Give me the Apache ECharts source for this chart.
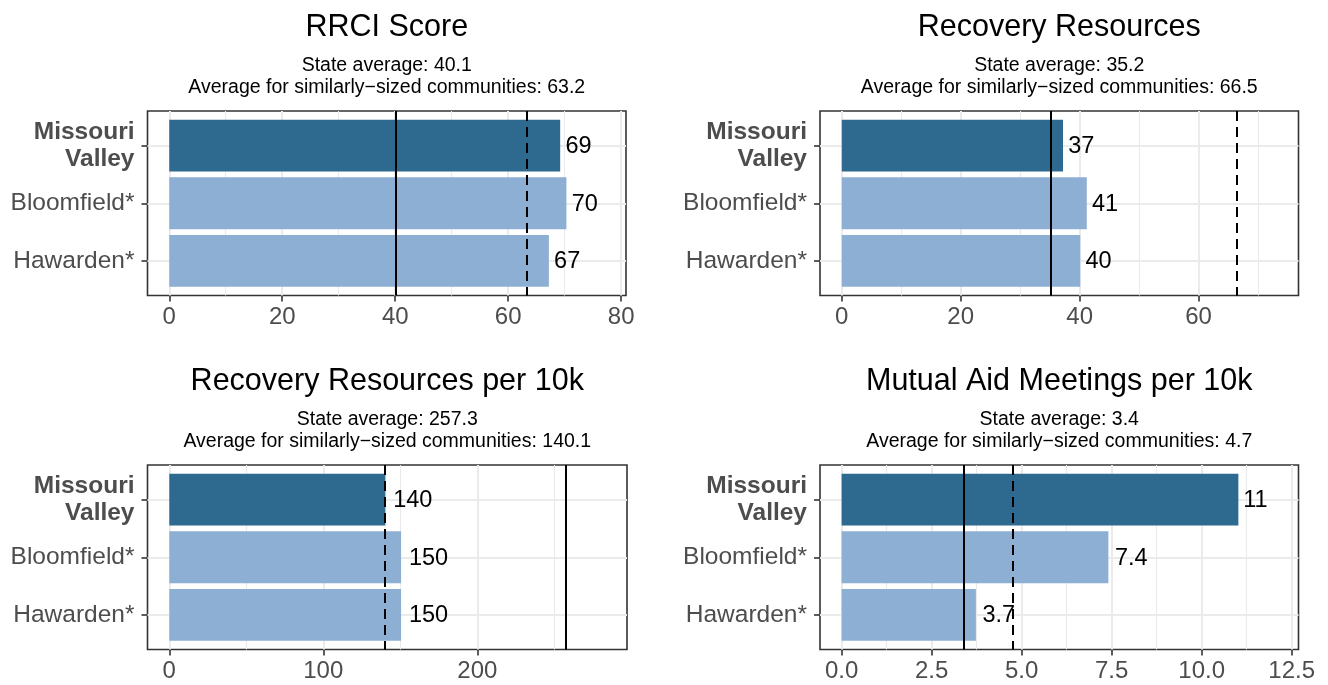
<!DOCTYPE html>
<html>
<head>
<meta charset="utf-8">
<script src="https://cdn.jsdelivr.net/npm/echarts@6/dist/echarts.min.js"></script>
<style>
  html, body { margin: 0; padding: 0; background: #fff; }
  #chart { width: 1328px; height: 685px; }
</style>
</head>
<body>
<div id="chart"></div>
<script>
// communities, top to bottom
const categories = ['Missouri Valley', 'Bloomfield*', 'Hawarden*'];

const titles = ['RRCI Score', 'Recovery Resources', 'Recovery Resources per 10k', 'Mutual Aid Meetings per 10k'];

// bar values per panel
const rrciScore = [69.2, 70.3, 67.2];
const recoveryResources = [37.2, 41.2, 40.1];
const resourcesPer10k = [140.3, 150.5, 150.5];
const meetingsPer10k = [11.02, 7.41, 3.73];

// reference lines
const stateAverages = [40.1, 35.2, 257.3, 3.4];
const similarAverages = [63.2, 66.5, 140.1, 4.74];

// axis ticks
const rrciTicks = [0, 20, 40, 60, 80];
const resourceTicks = [0, 20, 40, 60];
const per10kTicks = [0, 100, 200];
const meetingTicks = [0, 2.5, 5, 7.5, 10, 12.5];

const rrciMinor = [10, 30, 50, 70];
const resourceMinor = [10, 30, 50, 70];
const per10kMinor = [50, 150, 250];
const meetingMinor = [1.25, 3.75, 6.25, 8.75, 11.25];

const values = [rrciScore, recoveryResources, resourcesPer10k, meetingsPer10k];
const ticks = [rrciTicks, resourceTicks, per10kTicks, meetingTicks];
const minors = [rrciMinor, resourceMinor, per10kMinor, meetingMinor];

const FONT = '"Liberation Sans", Arial, Helvetica, sans-serif';
const VALUE_FONT = '23.5px ' + FONT;
const DARK = '#2E6A8F';
const LIGHT = '#8DAFD3';
const GRID = '#EBEBEB';
const INK = '#333333';

// panel boxes and x ranges
const panels = [
  { left: 147.5, top: 111, width: 478.5, height: 184.5, min: -3.85, max: 80.85 },
  { left: 820, top: 111, width: 478.5, height: 184.5, min: -3.66, max: 76.8 },
  { left: 147.5, top: 465, width: 479.5, height: 184.5, min: -14.15, max: 297.2 },
  { left: 820, top: 465, width: 478.5, height: 184.5, min: -0.6, max: 12.69 }
];

const measureCtx = document.createElement('canvas').getContext('2d');
function textWidth(s, font) {
  measureCtx.font = font;
  return measureCtx.measureText(s).width;
}

function labelOf(v) {
  return String(Number(v.toPrecision(2)));
}

function renderBar(params, api) {
  const v = api.value(0);
  const pos = api.value(1);
  const a = api.coord([0, pos]);
  const b = api.coord([v, pos]);
  const h = api.size([0, 0.9])[1];
  const txt = labelOf(v);
  return {
    type: 'group',
    children: [
      {
        type: 'rect',
        shape: { x: a[0], y: a[1] - h / 2, width: b[0] - a[0], height: h },
        style: { fill: pos === 1 ? DARK : LIGHT }
      },
      {
        type: 'text',
        x: b[0] + 0.2 * textWidth(txt, VALUE_FONT),
        y: b[1] + 1,
        style: {
          text: txt,
          fill: '#000',
          font: VALUE_FONT,
          align: 'left',
          verticalAlign: 'middle'
        }
      }
    ]
  };
}

const grids = [], xAxes = [], yAxes = [], series = [], graphics = [];

panels.forEach(function (p, i) {
  grids.push({
    left: p.left, top: p.top, width: p.width, height: p.height,
    show: true, borderColor: INK, borderWidth: 1.6, backgroundColor: 'transparent'
  });

  xAxes.push({
    type: 'value', gridIndex: i, min: p.min, max: p.max,
    axisLine: { show: false, onZero: false },
    axisTick: { show: true, customValues: ticks[i], length: 6, lineStyle: { color: INK, width: 1.6 } },
    axisLabel: {
      customValues: ticks[i], margin: 10, color: '#4D4D4D', fontSize: 24, fontFamily: FONT,
      formatter: function (v) { return i === 3 ? v.toFixed(1) : String(v); }
    },
    splitLine: { show: false }
  });

  yAxes.push({
    type: 'value', gridIndex: i, min: 0.4, max: 3.6, inverse: true,
    axisLine: { show: false, onZero: false },
    axisTick: { show: true, customValues: [1, 2, 3], length: 6, lineStyle: { color: INK, width: 1.6 } },
    axisLabel: {
      customValues: [1, 2, 3], margin: 13, color: '#4D4D4D', fontSize: 24.5, fontFamily: FONT,
      lineHeight: 27,
      formatter: function (v) {
        const k = Math.round(v) - 1;
        if (k === 0) return categories[0].split(' ').map(function (w) { return '{b|' + w + '}'; }).join('\n');
        return categories[k];
      },
      rich: { b: { fontWeight: 'bold', fontSize: 24.5, lineHeight: 27, color: '#4D4D4D', fontFamily: FONT } }
    },
    splitLine: { show: false }
  });

  // background grid lines
  const gl = [];
  ticks[i].forEach(function (t) { gl.push({ xAxis: t, lineStyle: { color: GRID, width: 2, type: 'solid' } }); });
  minors[i].forEach(function (t) { gl.push({ xAxis: t, lineStyle: { color: GRID, width: 1.1, type: 'solid' } }); });
  [1, 2, 3].forEach(function (t) { gl.push({ yAxis: t, lineStyle: { color: GRID, width: 2, type: 'solid' } }); });

  series.push({
    type: 'line', xAxisIndex: i, yAxisIndex: i, data: [], silent: true, z: 1,
    markLine: { silent: true, symbol: 'none', z: 1, label: { show: false }, data: gl }
  });

  series.push({
    type: 'custom', xAxisIndex: i, yAxisIndex: i, z: 2, silent: true,
    data: values[i].map(function (v, k) { return [v, k + 1]; }),
    renderItem: renderBar,
    markLine: {
      silent: true, symbol: 'none', z: 5, label: { show: false },
      data: [
        { xAxis: stateAverages[i], lineStyle: { color: '#000', width: 2, type: 'solid' } },
        { xAxis: similarAverages[i], lineStyle: { color: '#000', width: 2, type: [10, 6] } }
      ]
    }
  });

  const cx = p.left + p.width / 2;
  const ty = p.top - 83.5;
  graphics.push({
    type: 'text', x: cx, y: ty,
    style: { text: titles[i], font: '30.5px ' + FONT, fill: '#000', align: 'center', verticalAlign: 'middle' }
  });
  graphics.push({
    type: 'text', x: cx, y: ty + 38.5,
    style: { text: 'State average: ' + stateAverages[i].toFixed(1), font: '19.5px ' + FONT, fill: '#000', align: 'center', verticalAlign: 'middle' }
  });
  graphics.push({
    type: 'text', x: cx, y: ty + 60,
    style: { text: 'Average for similarly\u2212sized communities: ' + similarAverages[i].toFixed(1), font: '19.5px ' + FONT, fill: '#000', align: 'center', verticalAlign: 'middle' }
  });
});

const chart = echarts.init(document.getElementById('chart'));
chart.setOption({
  animation: false,
  backgroundColor: '#fff',
  grid: grids,
  xAxis: xAxes,
  yAxis: yAxes,
  series: series,
  graphic: graphics
});
</script>
</body>
</html>
